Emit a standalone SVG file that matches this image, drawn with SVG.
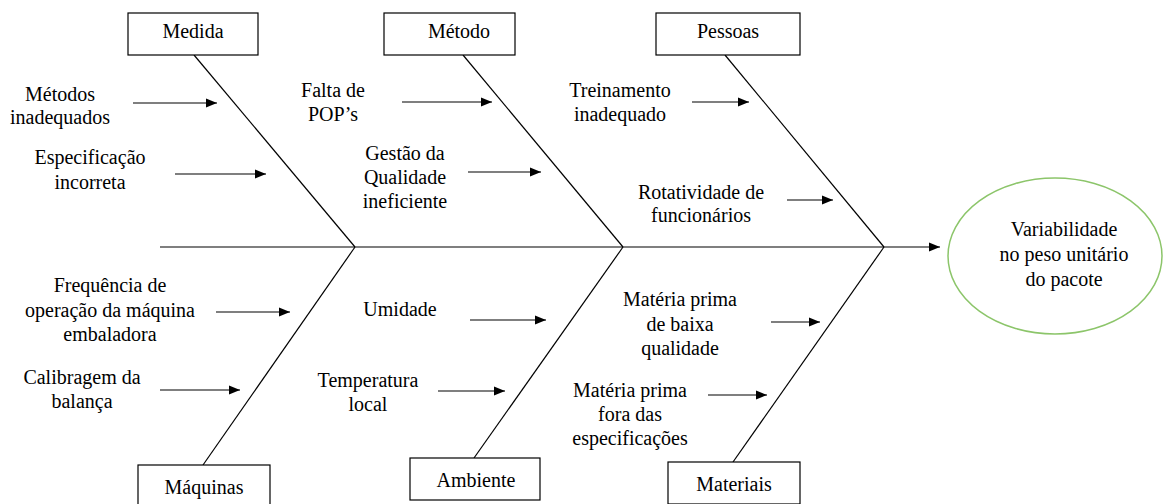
<svg xmlns="http://www.w3.org/2000/svg" width="1175" height="504" viewBox="0 0 1175 504" font-family="Liberation Serif, Times New Roman, serif">
<defs>
<marker id="ah" markerUnits="userSpaceOnUse" markerWidth="12" markerHeight="10" refX="11" refY="5" orient="auto">
<path d="M0,0.5 L11,5 L0,9.5 Z" fill="#000"/>
</marker>
<style>
.t{font-size:20px;fill:#000;text-anchor:middle}
.box{fill:#fff;stroke:#000;stroke-width:1.2}
.ln{stroke:#000;stroke-width:1.2;fill:none}
.ar{stroke:#000;stroke-width:1.2;fill:none;marker-end:url(#ah)}
</style>
</defs>
<rect width="1175" height="504" fill="#fff"/>
<g id="connectors">
<line class="ar" x1="160" y1="247" x2="940" y2="247"/>
<line class="ln" x1="194" y1="55" x2="355" y2="247"/>
<line class="ln" x1="463" y1="55" x2="623" y2="247"/>
<line class="ln" x1="725" y1="55" x2="884" y2="247"/>
<line class="ln" x1="355" y1="247" x2="203" y2="465"/>
<line class="ln" x1="623" y1="247" x2="474" y2="458"/>
<line class="ln" x1="884" y1="247" x2="733" y2="462"/>
<line class="ar" x1="133" y1="103" x2="217" y2="103"/>
<line class="ar" x1="175" y1="174" x2="266" y2="174"/>
<line class="ar" x1="402" y1="102" x2="492" y2="102"/>
<line class="ar" x1="468" y1="172" x2="541" y2="172"/>
<line class="ar" x1="692" y1="102" x2="749" y2="102"/>
<line class="ar" x1="787" y1="200" x2="833" y2="200"/>
<line class="ar" x1="216" y1="312" x2="290" y2="312"/>
<line class="ar" x1="160" y1="390" x2="240" y2="390"/>
<line class="ar" x1="470" y1="320" x2="546" y2="320"/>
<line class="ar" x1="438" y1="391" x2="505" y2="391"/>
<line class="ar" x1="771" y1="322" x2="820" y2="322"/>
<line class="ar" x1="708" y1="395" x2="767" y2="395"/>
</g>
<g id="medida"><rect class="box" x="128" y="13" width="130" height="42"/><text class="t" x="193" y="38">Medida</text></g>
<g id="metodo"><rect class="box" x="384" y="13" width="131" height="42"/><text class="t" x="459" y="38">Método</text></g>
<g id="pessoas"><rect class="box" x="656" y="13" width="144" height="42"/><text class="t" x="728" y="38">Pessoas</text></g>
<g id="maquinas"><rect class="box" x="138" y="465" width="132" height="42"/><text class="t" x="204" y="494">Máquinas</text></g>
<g id="ambiente"><rect class="box" x="410" y="458" width="130" height="42"/><text class="t" x="476" y="487">Ambiente</text></g>
<g id="materiais"><rect class="box" x="668" y="462" width="132" height="42"/><text class="t" x="734" y="491">Materiais</text></g>
<g id="efeito"><ellipse cx="1055" cy="256" rx="107" ry="78" fill="#fff" stroke="#8cc56a" stroke-width="1.5"/>
<text class="t" x="1064" y="236">Variabilidade</text><text class="t" x="1064" y="261">no peso unitário</text><text class="t" x="1064" y="286">do pacote</text></g>
<g id="c1"><text class="t" x="60" y="101">Métodos</text><text class="t" x="60" y="124">inadequados</text></g>
<g id="c2"><text class="t" x="90" y="164">Especificação</text><text class="t" x="90" y="189">incorreta</text></g>
<g id="c3"><text class="t" x="333" y="97">Falta de</text><text class="t" x="333" y="121">POP’s</text></g>
<g id="c4"><text class="t" x="405" y="160">Gestão da</text><text class="t" x="405" y="184">Qualidade</text><text class="t" x="405" y="208">ineficiente</text></g>
<g id="c5"><text class="t" x="620" y="97">Treinamento</text><text class="t" x="620" y="121">inadequado</text></g>
<g id="c6"><text class="t" x="701" y="199">Rotatividade de</text><text class="t" x="701" y="222">funcionários</text></g>
<g id="c7"><text class="t" x="110" y="292">Frequência de</text><text class="t" x="110" y="317">operação da máquina</text><text class="t" x="110" y="341">embaladora</text></g>
<g id="c8"><text class="t" x="82" y="384">Calibragem da</text><text class="t" x="82" y="408">balança</text></g>
<g id="c9"><text class="t" x="400" y="316">Umidade</text></g>
<g id="c10"><text class="t" x="368" y="387">Temperatura</text><text class="t" x="368" y="411">local</text></g>
<g id="c11"><text class="t" x="680" y="306">Matéria prima</text><text class="t" x="680" y="331">de baixa</text><text class="t" x="680" y="355">qualidade</text></g>
<g id="c12"><text class="t" x="630" y="397">Matéria prima</text><text class="t" x="630" y="421">fora das</text><text class="t" x="630" y="445">especificações</text></g>
</svg>
